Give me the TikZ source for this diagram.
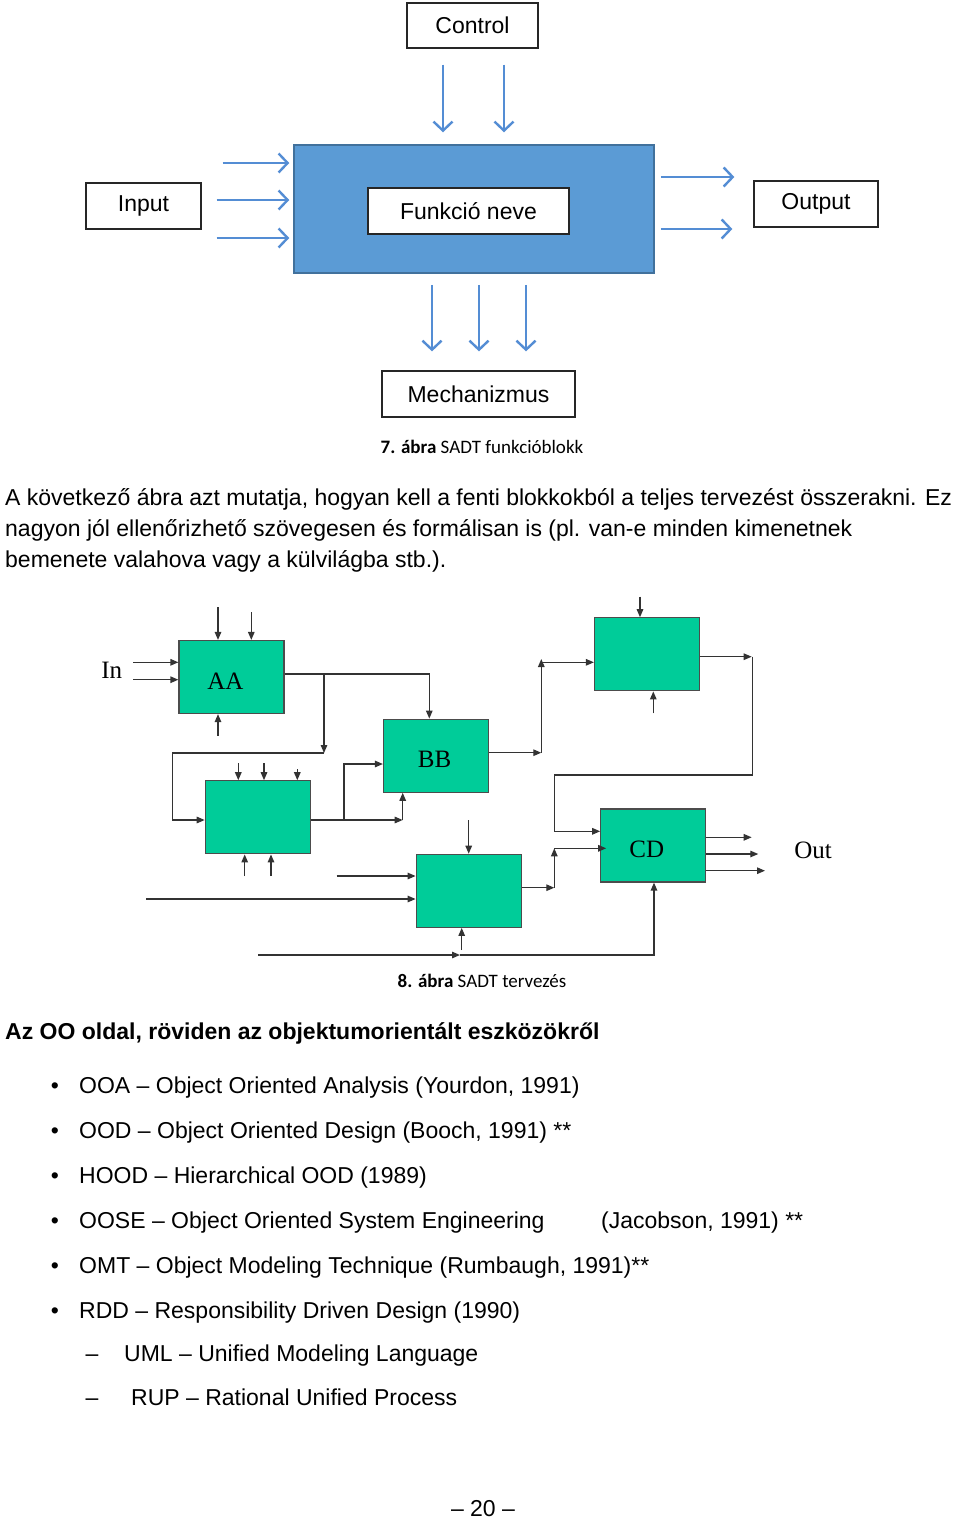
\documentclass[tikz,border=0pt]{standalone}
\usepackage{fontspec}
\setmainfont{Liberation Sans}
\newfontfamily\calib{Carlito}
\newfontfamily\tms{Liberation Serif}
\usetikzlibrary{arrows.meta}

\definecolor{funcblue}{RGB}{91,155,213}
\definecolor{funcedge}{RGB}{65,113,156}
\definecolor{arrblue}{RGB}{84,141,212}
\definecolor{blkgreen}{RGB}{0,204,153}

\begin{document}
\begin{tikzpicture}[
  x=1pt,y=-1pt,
  font=\fontsize{23}{31}\selectfont,
  lbox/.style={draw=black!85,line width=1.3pt,fill=white,inner sep=0pt},
  barr/.style={draw=arrblue,line width=2.4pt,-{Straight Barb[length=9pt,width=19pt]}},
  gbox/.style={draw=black!70,fill=blkgreen,line width=1.2pt,minimum width=105,minimum height=73,
    inner sep=0pt,text height=24pt,text depth=0pt,font=\tms\fontsize{25}{25}\selectfont},
  garr/.style={draw=black!80,line width=1.3pt,-{Triangle[length=8pt,width=6.5pt]}},
  tlab/.style={font=\tms\fontsize{25}{25}\selectfont},
  capt/.style={font=\calib\fontsize{19}{19}\selectfont},
  txt/.style={anchor=base west,inner sep=0pt}]

  \useasboundingbox[fill=white] (0,0) rectangle (960,1519);

  % ================= SADT function block =================
  \node[lbox,minimum width=131,minimum height=45] (ctrl) at (472.5,25.5) {Control};
  \node[draw=funcedge,fill=funcblue,line width=1.5pt,minimum width=360,minimum height=128] (func) at (474,209) {};
  \node[lbox,minimum width=201,minimum height=46] (fname) at (468.5,211) {Funkció neve};
  \node[lbox,minimum width=115,minimum height=46] (inp) at (143.5,206) {Input};
  \node[lbox,minimum width=124,minimum height=46] (outp) at (816,204) {Output};
  \node[lbox,minimum width=193,minimum height=46] (mech) at (478.5,394) {Mechanizmus};
  \node[capt] (cap1) at (482,447) {\textbf{7. ábra} SADT funkcióblokk};

  % control arrows
  \foreach \xx in {443,504} {
    \coordinate (ca) at (\xx,0);
    \draw[barr,shorten <=16pt,shorten >=12pt] (ca |- ctrl.south) -- (ca |- func.north);
  }
  % input arrows
  \foreach \yy/\sh in {163/21,200/15,238/15} {
    \coordinate (ia) at (0,\yy);
    \draw[barr,shorten <=\sh pt,shorten >=4pt] (ia -| inp.east) -- (ia -| func.west);
  }
  % output arrows
  \foreach \yy/\sh in {177/19,229/21} {
    \coordinate (oa) at (0,\yy);
    \draw[barr,shorten <=6pt,shorten >=\sh pt] (oa -| func.east) -- (oa -| outp.west);
  }
  % mechanism arrows
  \foreach \xx in {432,479,526} {
    \coordinate (ma) at (\xx,0);
    \draw[barr,shorten <=11pt,shorten >=19pt] (ma |- func.south) -- (ma |- mech.north);
  }

  % ================= text =================
  \node[txt] (p1) at (5,505) {A következő ábra azt mutatja, hogyan kell a fenti blokkokból a teljes tervezést összerakni. Ez};
  \node[txt] (p2) at (5,536) {nagyon jól ellenőrizhető szövegesen és formálisan is (pl. van-e minden kimenetnek};
  \node[txt] (p3) at (5,567) {bemenete valahova vagy a külvilágba stb.).};

  % ================= SADT design =================
  \node[gbox] (aa) at (231.5,677) {AA\kern12pt};
  \node[gbox] (lft) at (257.8,817.3) {};
  \node[gbox] (bb) at (436,755.7) {BB\kern3pt};
  \node[gbox] (upr) at (647,654.3) {};
  \node[gbox] (cd) at (653.3,845.5) {CD\kern13pt};
  \node[gbox] (low) at (468.7,890.8) {};
  \node[tlab] (inl) at (111.7,670) {In};
  \node[tlab] (outl) at (813,850) {Out};

  % AA inputs, controls, mechanism
  \foreach \yy in {662.3,679.7} {
    \coordinate (ai) at (133,\yy);
    \draw[garr] (ai) -- (ai -| aa.west);
  }
  \foreach \xx/\yy in {218/607,251.3/612} {
    \coordinate (ac) at (\xx,\yy);
    \draw[garr] (ac) -- (ac |- aa.north);
  }
  \coordinate (am) at (218,735.7);
  \draw[garr] (am) -- (am |- aa.south);

  % AA -> BB, AA -> feedback -> left block
  \coordinate (ab) at (429.3,674);
  \draw[garr] (aa.east |- ab) -- (ab) -- (ab |- bb.north);
  \coordinate (abr) at (324,674);
  \coordinate (fb) at (324,753);
  \draw[garr] (abr) -- (fb);
  \coordinate (fbl) at (172.3,753);
  \coordinate (lin) at (172.3,820);
  \draw[garr] (fb) -- (fbl) -- (lin) -- (lin -| lft.west);

  % left block controls, mechanisms
  \foreach \xx/\yy in {238.3/763.3,264/763.3,297.3/769.3} {
    \coordinate (lc) at (\xx,\yy);
    \draw[garr] (lc) -- (lc |- lft.north);
  }
  \foreach \xx in {244.7,271} {
    \coordinate (lm) at (\xx,876);
    \draw[garr] (lm) -- (lm |- lft.south);
  }

  % left block -> BB
  \coordinate (lo) at (402.7,820);
  \draw[garr] (lin -| lft.east) -- (lo);
  \draw[garr] (lo) -- (lo |- bb.south);
  \coordinate (lb1) at (344,820);
  \coordinate (lb2) at (344,764);
  \draw[garr] (lb1) -- (lb2) -- (lb2 -| bb.west);

  % BB -> upper block
  \coordinate (bo) at (541.3,752.7);
  \coordinate (bu) at (541.3,659);
  \coordinate (ui) at (541.3,662.3);
  \draw[garr] (bo -| bb.east) -- (bo);
  \draw[garr] (bo) -- (bu);
  \draw[garr] (ui) -- (ui -| upr.west);
  \coordinate (uc) at (640,596.7);
  \draw[garr] (uc) -- (uc |- upr.north);
  \coordinate (um) at (653.3,713.3);
  \draw[garr] (um) -- (um |- upr.south);

  % upper block -> CD
  \coordinate (uo) at (751.7,656.7);
  \draw[garr] (uo -| upr.east) -- (uo);
  \coordinate (f1) at (752.3,656.7);
  \coordinate (f3) at (554.7,775);
  \coordinate (f4) at (554.7,831.3);
  \draw[garr] (f1) |- (f3) -- (f4) -- (f4 -| cd.west);

  % lower block
  \coordinate (lwc) at (468.7,820);
  \draw[garr] (lwc) -- (lwc |- low.north);
  \coordinate (li1) at (336.7,876);
  \coordinate (li2) at (146,899);
  \draw[garr] (li1) -- (li1 -| low.west);
  \draw[garr] (li2) -- (li2 -| low.west);
  \coordinate (lwm) at (461.7,950);
  \draw[garr] (lwm) -- (lwm |- low.south);

  % lower block -> CD
  \coordinate (lwo) at (554.3,887.7);
  \coordinate (lwu) at (554.3,848.3);
  \draw[garr] (lwo -| low.east) -- (lwo);
  \draw[garr] (lwo) -- (lwu);
  \draw[garr] (lwu) -- ([xshift=6pt]lwu -| cd.west);

  % bottom line -> CD
  \coordinate (bl1) at (258.3,955);
  \coordinate (bl2) at (460,955);
  \coordinate (bl3) at (654,955);
  \draw[garr] (bl1) -- (bl2);
  \draw[garr] (bl2) -- (bl3) -- (bl3 |- cd.south);

  % CD outputs
  \foreach \yy/\xx in {837.3/751.7,854/758.3,870.7/765} {
    \coordinate (co) at (\xx,\yy);
    \draw[garr] (co -| cd.east) -- (co);
  }

  \node[capt] (cap2) at (482,981) {\textbf{8. ábra} SADT tervezés};

  % ================= OO list =================
  \node[txt,font=\bfseries\fontsize{23}{31}\selectfont] (head) at (5,1039) {Az OO oldal, röviden az objektumorientált eszközökről};

  \foreach \yy in {1093,1138,1183,1228,1273,1318} {
    \node[anchor=base,inner sep=0pt] (blt) at (55,\yy) {•};
  }
  \node[txt] (i1) at (79,1093) {OOA – Object Oriented Analysis (Yourdon, 1991)};
  \node[txt] (i2) at (79,1138) {OOD – Object Oriented Design (Booch, 1991) **};
  \node[txt] (i3) at (79,1183) {HOOD – Hierarchical OOD (1989)};
  \node[txt] (i4) at (79,1228) {OOSE – Object Oriented System Engineering};
  \node[txt] (i4b) at (601,1228) {(Jacobson, 1991) **};
  \node[txt] (i5) at (79,1273) {OMT – Object Modeling Technique (Rumbaugh, 1991)**};
  \node[txt] (i6) at (79,1318) {RDD – Responsibility Driven Design (1990)};

  \node[anchor=base,inner sep=0pt] (d1) at (92,1361) {–};
  \node[anchor=base,inner sep=0pt] (d2) at (92,1405) {–};
  \node[txt] (i7) at (124,1361) {UML – Unified Modeling Language};
  \node[txt] (i8) at (131,1405) {RUP – Rational Unified Process};

  \node[anchor=base,inner sep=0pt] (pg) at (483,1516) {– 20 –};
\end{tikzpicture}
\end{document}
